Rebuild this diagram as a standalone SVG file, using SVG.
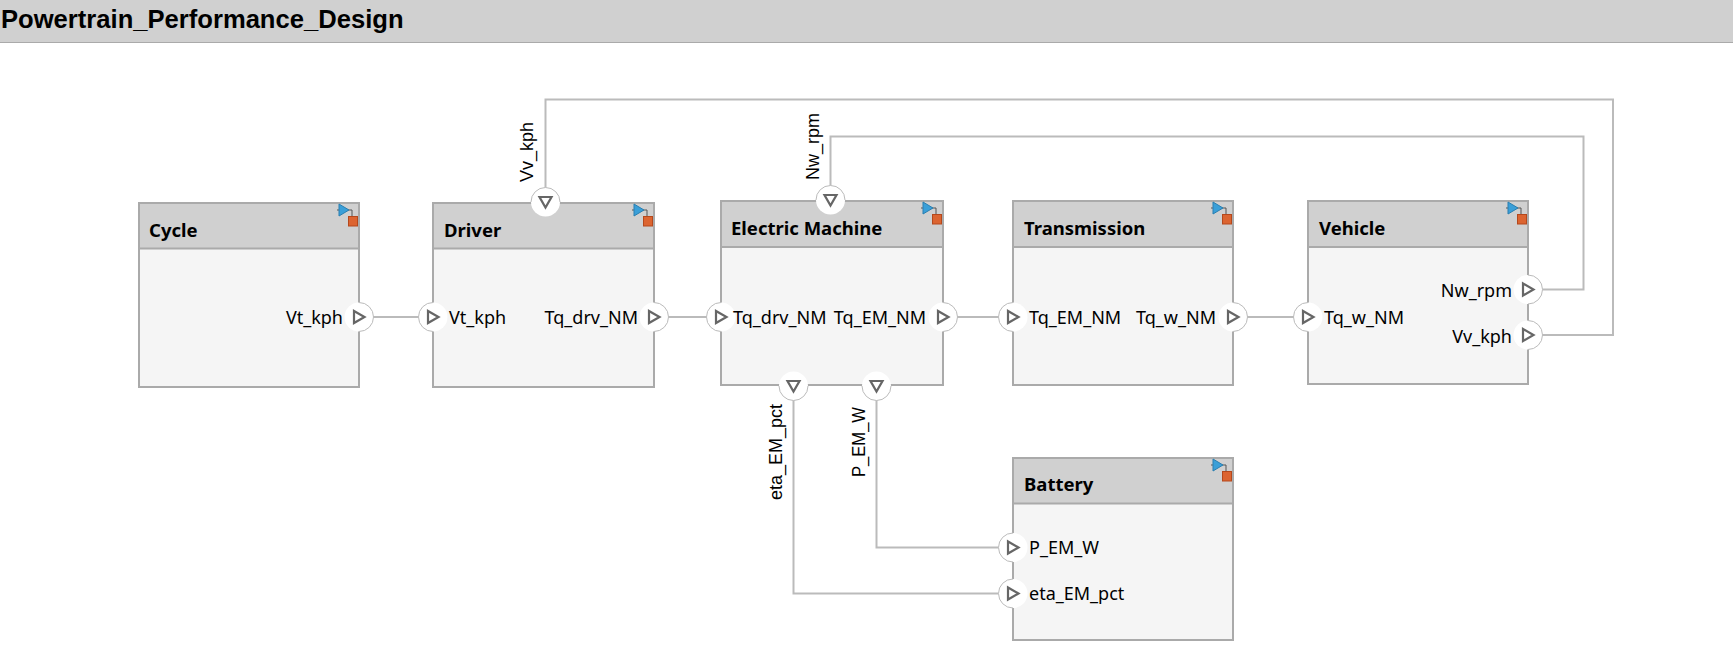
<svg xmlns="http://www.w3.org/2000/svg" width="1733" height="645" viewBox="0 0 1733 645">
<style>
.body{fill:#f5f5f5;stroke:none}
.head{fill:#d0d0d0;stroke:none}
.edge{fill:none;stroke:#aaa;stroke-width:2}
.conn{fill:none;stroke:#bbb;stroke-width:2}
.pw{fill:#fff;stroke:none}
.arc{fill:none;stroke:#bbb;stroke-width:1}
.tri{fill:none;stroke:#666;stroke-width:2.200}
.t{font-family:"Noto Sans","Liberation Sans",sans-serif;font-size:18px;fill:#000}
.v{font-family:"Liberation Sans",sans-serif;font-size:18px;fill:#000}
.h{font-family:"Noto Sans","DejaVu Sans",sans-serif;font-weight:bold;font-size:18.500px;fill:#000}
</style>
<defs>
<g id="icon">
<path d="M-20 7H-11M-10 7H-5V14" fill="none" stroke="#555" stroke-width="1"/>
<path d="M-18 1L-8 7L-18 13Z" fill="#3a9fd8" stroke="#2a7fb0" stroke-width="1"/>
<rect x="-8.500" y="13.500" width="9" height="9.500" fill="#dc6430" stroke="#b5481c" stroke-width="1"/>
</g>
<g id="pR"><circle class="pw" r="14.500"/><path class="arc" d="M0-14.500A14.500 14.500 0 0 1 0 14.500"/><path class="tri" d="M-5-6L5.500 0L-5 6Z"/></g>
<g id="pL"><circle class="pw" r="14.500"/><path class="arc" d="M0-14.500A14.500 14.500 0 0 0 0 14.500"/><path class="tri" d="M-5-6L5.500 0L-5 6Z"/></g>
<g id="pT"><circle class="pw" r="14.500"/><path class="arc" d="M-14.500 0A14.500 14.500 0 0 1 14.500 0"/><path class="tri" d="M-6-5L6-5L0 5.500Z"/></g>
<g id="pB"><circle class="pw" r="14.500"/><path class="arc" d="M-14.500 0A14.500 14.500 0 0 0 14.500 0"/><path class="tri" d="M-6-5L6-5L0 5.500Z"/></g>
</defs>
<rect width="1733" height="645" fill="#fff"/>
<g id="title">
<rect x="0" y="0" width="1733" height="42" class="head"/>
<path d="M0 42.500H1733" stroke="#aaa" stroke-width="1"/>
<text x="1" y="28" font-family="Liberation Sans, sans-serif" font-weight="bold" font-size="25.600px" fill="#000">Powertrain_Performance_Design</text>
</g>
<g id="connectors">
<path class="conn" d="M359 317H433"/>
<path class="conn" d="M654 317H721"/>
<path class="conn" d="M943 317H1013"/>
<path class="conn" d="M1233 317H1308"/>
<path class="conn" d="M1528 289.500H1583.500V136.500H830.500V201"/>
<path class="conn" d="M1528 335H1613V99.500H545.500V202"/>
<path class="conn" d="M793.500 385V593.500H1013"/>
<path class="conn" d="M876.500 385V547.500H1013"/>
</g>
<g id="node-cycle">
<rect class="body" x="139" y="203" width="220" height="184"/>
<rect class="head" x="139" y="203" width="220" height="46"/>
<path class="edge" d="M139 248.500H359M139 203H359V387H139Z"/>
<use href="#icon" x="357" y="203"/>
<text class="h" x="149" y="237">Cycle</text>
<use href="#pR" x="359" y="317"/>
<text class="t" x="343" y="323.500" text-anchor="end">Vt_kph</text>
</g>
<g id="node-driver">
<rect class="body" x="433" y="203" width="221" height="184"/>
<rect class="head" x="433" y="203" width="221" height="46"/>
<path class="edge" d="M433 248.500H654M433 203H654V387H433Z"/>
<use href="#icon" x="652" y="203"/>
<text class="h" x="444" y="237">Driver</text>
<use href="#pL" x="433" y="317"/>
<text class="t" x="449" y="323.500">Vt_kph</text>
<use href="#pR" x="654" y="317"/>
<text class="t" x="638" y="323.500" text-anchor="end">Tq_drv_NM</text>
<use href="#pT" x="545.500" y="202"/>
<text class="v" transform="translate(533 182) rotate(-90)">Vv_kph</text>
</g>
<g id="node-em">
<rect class="body" x="721" y="201" width="222" height="184"/>
<rect class="head" x="721" y="201" width="222" height="46"/>
<path class="edge" d="M721 247H943M721 201H943V385H721Z"/>
<use href="#icon" x="941" y="201"/>
<text class="h" x="731" y="235">Electric Machine</text>
<use href="#pL" x="721" y="317"/>
<text class="t" x="733" y="323.500">Tq_drv_NM</text>
<use href="#pR" x="943" y="317"/>
<text class="t" x="926" y="323.500" text-anchor="end">Tq_EM_NM</text>
<use href="#pT" x="830.500" y="200"/>
<use href="#pB" x="793.500" y="386"/>
<use href="#pB" x="876.500" y="386"/>
<text class="v" transform="translate(819 180) rotate(-90)">Nw_rpm</text>
<text class="v" transform="translate(782 500) rotate(-90)">eta_EM_pct</text>
<text class="v" transform="translate(865 477) rotate(-90)" textLength="70" lengthAdjust="spacingAndGlyphs">P_EM_W</text>
</g>
<g id="node-transmission">
<rect class="body" x="1013" y="201" width="220" height="184"/>
<rect class="head" x="1013" y="201" width="220" height="46"/>
<path class="edge" d="M1013 247H1233M1013 201H1233V385H1013Z"/>
<use href="#icon" x="1231" y="201"/>
<text class="h" x="1024" y="235">Transmission</text>
<use href="#pL" x="1013" y="317"/>
<text class="t" x="1029" y="323.500">Tq_EM_NM</text>
<use href="#pR" x="1233" y="317"/>
<text class="t" x="1216" y="323.500" text-anchor="end">Tq_w_NM</text>
</g>
<g id="node-vehicle">
<rect class="body" x="1308" y="201" width="220" height="183"/>
<rect class="head" x="1308" y="201" width="220" height="46"/>
<path class="edge" d="M1308 247H1528M1308 201H1528V384H1308Z"/>
<use href="#icon" x="1526" y="201"/>
<text class="h" x="1319" y="235">Vehicle</text>
<use href="#pL" x="1308" y="317"/>
<text class="t" x="1324" y="323.500">Tq_w_NM</text>
<use href="#pR" x="1528" y="289.500"/>
<text class="t" x="1512" y="296.500" text-anchor="end">Nw_rpm</text>
<use href="#pR" x="1528" y="335"/>
<text class="t" x="1512" y="342.500" text-anchor="end">Vv_kph</text>
</g>
<g id="node-battery">
<rect class="body" x="1013" y="458" width="220" height="182"/>
<rect class="head" x="1013" y="458" width="220" height="46"/>
<path class="edge" d="M1013 503.500H1233M1013 458H1233V640H1013Z"/>
<use href="#icon" x="1231" y="458"/>
<text class="h" x="1024" y="491">Battery</text>
<use href="#pL" x="1013" y="547.500"/>
<text class="t" x="1029" y="553.500">P_EM_W</text>
<use href="#pL" x="1013" y="593.500"/>
<text class="t" x="1029" y="599.500">eta_EM_pct</text>
</g>
</svg>
